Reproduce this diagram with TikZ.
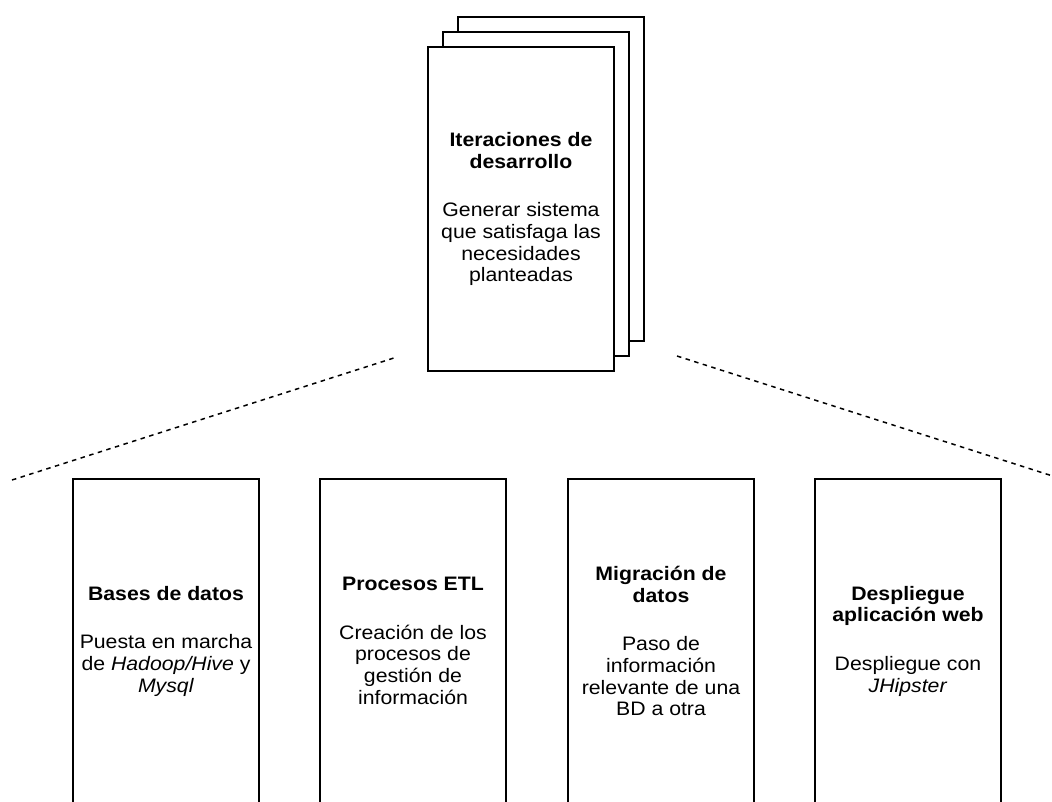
\documentclass[tikz,border=0pt]{standalone}
\usepackage{fontspec}
\setmainfont{Liberation Sans}[FakeStretch=1.09]
\begin{document}
\begin{tikzpicture}[x=1pt,y=-1pt,
  card/.style={shape=rectangle, draw=black, line width=2.8pt, fill=white,
    minimum width=186pt, minimum height=324pt, inner sep=0pt,
    align=center, font=\fontsize{19.5}{21.8}\selectfont},
  guide/.style={draw=black, line width=1.5pt, dash pattern=on 4.5pt off 4.5pt}]
\useasboundingbox (0,0) rectangle (1052,801);
\clip (0,0) rectangle (1052,801);

% dashed guides fanning out from the stack
\coordinate (gl1) at (12,480);
\coordinate (gl2) at (397,357);
\coordinate (gr1) at (677,356);
\coordinate (gr2) at (1062,479);
\draw[guide] (gl1) -- (gl2);
\draw[guide] (gr1) -- (gr2);

% stack of iteration sheets
\node[card] (iterC) at (551,179) {};
\node[card] (iterB) at (536,194) {};
\node[card] (iter) at (521,209) {\textbf{Iteraciones de}\\\textbf{desarrollo}\\[26.6pt]Generar sistema\\que satisfaga las\\necesidades\\planteadas};

% work areas
\node[card] (bd) at (166,641) {\textbf{Bases de datos}\\[26.6pt]Puesta en marcha\\de \textit{Hadoop/Hive} y\\\textit{Mysql}};
\node[card] (etl) at (413,641) {\textbf{Procesos ETL}\\[26.6pt]Creación de los\\procesos de\\gestión de\\información};
\node[card] (mig) at (661,641) {\textbf{Migración de}\\\textbf{datos}\\[26.6pt]Paso de\\información\\relevante de una\\BD a otra};
\node[card] (web) at (908,641) {\textbf{Despliegue}\\\textbf{aplicación web}\\[26.6pt]Despliegue con\\\textit{JHipster}};
\end{tikzpicture}
\end{document}
